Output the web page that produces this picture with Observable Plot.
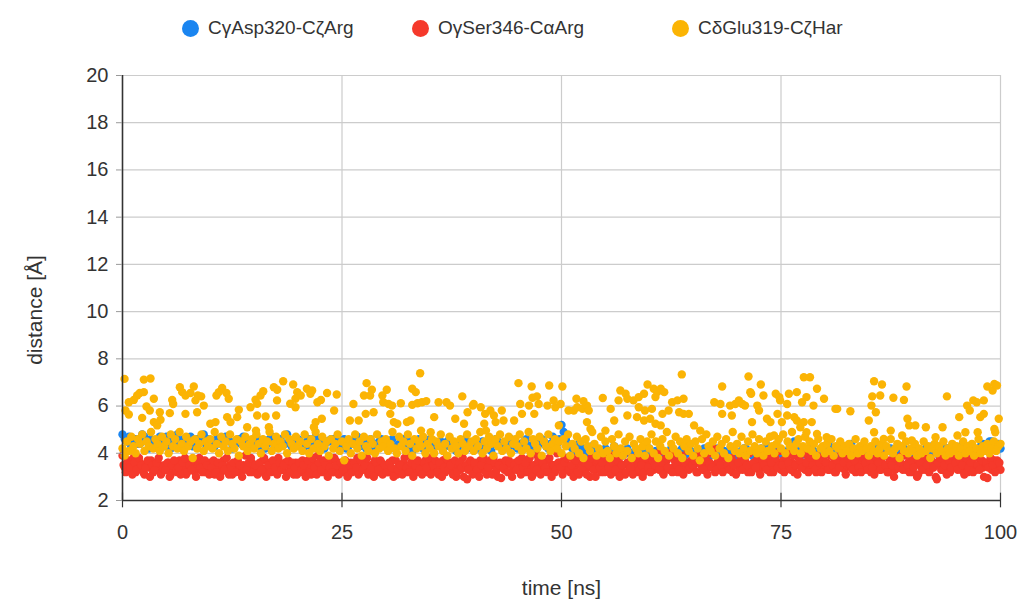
<!DOCTYPE html>
<html><head><meta charset="utf-8">
<script src="https://cdn.jsdelivr.net/npm/d3@7"></script>
<script src="https://cdn.jsdelivr.net/npm/@observablehq/plot@0.6"></script>
<style>
body{margin:0;background:#fff;font-family:"Liberation Sans",Arial,sans-serif;}
#wrap{width:1030px;height:599px;position:relative;overflow:hidden;background:#fff}
#legend{height:56px;position:relative}
.item{position:absolute;top:0;height:56px;display:flex;align-items:center;font-size:19px;color:#333;white-space:nowrap}
.dot{width:17px;height:17px;border-radius:50%;margin-right:9px}
</style></head><body><div id="wrap"><div id="legend"></div><div id="chart"></div></div>
<script>
const seriesNames = ["CγAsp320-CζArg", "OγSer346-CαArg", "CδGlu319-CζHar"];
const seriesColors = ["#1a85f0", "#f5392b", "#fbb404"];
const xTicks = [0, 25, 50, 75, 100];
const yTicks = [2, 4, 6, 8, 10, 12, 14, 16, 18, 20];
const xLabel = "time [ns]";
const yLabel = "distance [Å]";

// sampling interval of the trajectory (ns)
const blueStep = 0.25;
const redStep = 0.25;
const redOffsetB = 0.125;
const orangeStep = 0.25;

// CγAsp320-CζArg, one value per 0.25 ns
const blueValues = [
4.8,4.6,4.5,4.7,4.3,4.5,4.6,4.4,4.4,4.8,4.7,4.5,4.2,4.6,4.5,4.4,4.4,4.7,4.6,4.3,
4.7,4.5,4.2,4.6,4.4,4.8,4.5,4.3,4.6,4.5,4.4,4.7,4.3,4.5,4.6,4.4,4.5,4.8,4.4,4.6,
4.5,4.3,4.3,4.6,4.6,4.4,4.4,4.7,4.7,4.5,4.2,4.4,4.5,4.6,4.4,4.7,4.6,4.5,4.3,4.4,
4.5,4.7,4.3,4.5,4.5,4.2,4.4,4.6,4.7,4.4,4.3,4.5,4.6,4.4,4.4,4.8,4.5,4.3,4.3,4.6,
4.6,4.5,4.4,4.3,4.5,4.6,4.3,4.4,4.7,4.5,4.4,4.3,4.2,4.5,4.5,4.6,4.6,4.4,4.3,4.5,
4.4,4.6,4.2,4.3,4.5,4.4,4.6,4.7,4.3,4.5,4.4,4.2,4.5,4.6,4.1,4.4,4.4,4.5,4.6,4.3,
4.3,4.4,4.5,4.6,4.2,4.3,4.4,4.5,4.6,4.4,4.3,4.5,4.1,4.4,4.5,4.6,4.4,4.2,4.2,4.5,
4.6,4.3,4.3,4.4,4.4,4.5,4.2,4.3,4.5,4.6,4.3,4.4,4.1,4.3,4.4,4.5,4.6,4.2,4.3,4.4,
4.4,4.5,4.2,4.3,4.5,4.4,4.3,4.2,4.1,4.4,4.6,4.5,4.4,4.3,4.2,4.4,4.3,4.6,4.5,4.3,
4.2,4.4,4.4,4.5,4.6,4.3,4.3,4.1,4.1,4.4,4.4,4.6,4.5,4.3,4.2,4.4,4.7,4.5,4.4,4.6,
5.2,4.9,4.6,4.4,4.3,4.2,4.1,4.3,4.4,4.2,4.2,4.0,4.0,4.2,4.3,4.1,4.1,4.0,3.9,4.1,
4.2,4.1,4.0,3.9,4.3,4.2,4.1,4.0,3.9,4.1,4.2,4.0,4.0,3.9,3.8,4.1,4.1,4.0,4.0,4.2,
4.2,4.0,3.9,4.1,4.1,4.0,4.0,3.9,3.8,4.0,4.2,4.1,4.0,3.9,4.1,4.2,3.9,4.0,4.3,4.1,
4.0,3.9,3.8,4.0,4.1,4.2,4.2,4.0,3.9,4.1,4.0,4.2,3.9,4.0,4.1,3.9,4.0,4.2,4.1,4.0,
3.9,4.0,4.1,4.2,4.2,4.1,4.0,3.9,3.8,4.0,4.1,4.2,4.0,4.1,4.3,4.0,3.9,4.1,4.1,4.0,
4.0,3.9,3.8,4.1,4.2,4.0,4.5,4.2,4.0,3.9,4.1,4.0,3.9,4.2,4.2,4.1,4.0,3.9,3.9,4.1,
4.1,4.0,4.3,4.2,4.0,4.1,4.2,4.0,3.9,4.0,4.1,4.2,4.4,4.1,4.0,3.9,4.2,4.0,3.9,4.1,
4.1,4.2,4.0,3.9,4.3,4.1,3.9,4.0,4.1,4.2,4.2,4.0,3.9,3.8,4.1,4.0,4.2,4.1,4.0,3.9,
4.0,4.2,4.1,4.0,3.9,4.1,4.2,4.0,4.0,4.3,4.3,4.1,3.9,4.0,4.1,4.2,4.2,4.0,4.0,4.1,
4.1,4.2,4.3,4.0,3.9,4.1,4.2,4.3,4.0,4.1,4.1,4.3,4.4,4.2,4.2,4.5,4.5,4.3,4.3,4.4,
4.2];

// OγSer346-CαArg, one value per 0.25 ns (frames on the quarter-ns)
const redValues = [
3.9,3.4,3.6,3.3,3.5,3.8,3.2,3.4,3.6,3.3,3.1,3.5,3.4,3.7,3.2,3.3,3.6,3.4,3.2,3.5,
3.3,3.6,3.1,3.4,3.5,3.2,3.7,3.3,3.4,3.1,3.6,3.3,3.5,3.2,3.4,3.8,3.3,3.5,3.2,3.4,
3.6,3.3,3.1,3.5,3.4,3.2,3.7,3.4,3.3,3.5,3.1,3.4,3.6,3.3,3.2,3.5,3.9,3.4,3.2,3.6,
3.3,3.5,3.2,3.4,3.7,3.1,3.4,3.6,3.3,3.5,3.2,3.8,3.4,3.3,3.6,3.2,3.5,3.4,3.1,3.6,
3.4,3.2,3.7,3.3,3.5,3.4,3.1,3.6,3.3,3.9,3.4,3.2,3.5,3.3,3.6,3.4,3.2,3.7,3.3,3.5,
3.2,3.5,3.4,3.1,3.6,3.3,3.5,3.8,3.2,3.4,3.6,3.3,3.1,3.5,3.4,3.7,3.2,3.4,3.6,3.3,
3.5,3.2,3.4,3.7,3.3,3.1,3.5,3.4,3.6,3.2,3.9,3.4,3.3,3.5,3.2,3.6,3.4,3.3,3.7,3.2,
3.4,3.6,3.3,3.5,3.1,3.4,3.7,3.2,3.5,3.3,3.6,3.4,3.0,3.5,3.3,3.8,3.4,2.9,3.6,3.3,
3.5,3.2,3.4,3.7,3.3,3.6,3.1,3.4,3.5,3.8,3.2,3.0,3.6,3.4,3.3,3.5,3.7,3.2,3.4,3.6,
3.3,3.5,3.8,3.2,3.4,3.6,3.3,3.1,3.5,3.9,3.4,3.2,3.6,3.3,3.7,3.4,3.5,3.2,4.0,3.6,
3.4,3.7,3.3,3.5,3.2,3.8,3.4,3.6,3.1,3.5,3.3,3.7,3.4,3.0,3.6,3.3,3.5,3.8,3.2,3.4,
3.6,3.3,3.5,3.9,3.2,3.4,3.7,3.3,3.5,3.1,3.6,3.4,3.8,3.3,3.5,3.2,3.7,3.0,3.4,3.6,
3.5,3.8,3.3,3.6,3.4,4.1,3.2,3.5,3.7,3.3,3.9,3.4,3.6,3.2,3.5,3.8,3.4,3.6,3.3,3.7,
3.4,3.6,3.2,3.9,3.5,3.3,3.7,3.4,4.0,3.5,3.2,3.6,3.4,3.8,3.3,3.5,3.7,3.4,3.2,3.6,
3.5,3.3,3.8,3.4,3.6,3.2,3.5,4.1,3.4,3.7,3.3,3.5,3.9,3.4,3.6,3.2,3.5,3.8,3.4,3.6,
3.3,3.7,3.5,4.0,3.4,3.6,3.2,3.5,3.8,3.4,3.6,3.3,3.9,3.5,3.4,3.7,3.2,3.6,3.5,3.8,
3.4,3.6,3.3,3.5,3.8,3.2,3.6,3.4,3.7,3.3,3.5,3.9,3.4,3.6,3.2,3.5,3.7,3.4,3.3,3.6,
3.5,3.2,3.7,3.4,3.6,3.3,3.8,3.5,3.4,3.2,3.6,3.5,3.3,3.7,3.4,3.9,3.5,3.3,3.6,3.4,
3.2,3.5,3.0,3.6,3.4,3.7,3.3,3.5,3.8,3.4,3.6,2.9,3.5,3.3,3.7,3.4,3.6,3.2,3.5,3.8,
3.4,3.6,3.3,3.7,3.5,3.2,3.6,3.4,3.8,3.3,3.5,3.7,3.4,3.6,2.95,3.5,3.3,3.7,3.4,3.5,
3.3];

// OγSer346-CαArg, intermediate frames (0.125 ns + one value per 0.25 ns)
const redValuesB = [
3.5,3.2,3.7,3.4,3.1,3.6,3.3,3.8,3.5,3.2,3.4,3.7,3.0,3.5,3.3,3.6,3.8,3.1,3.4,3.3,
3.6,3.0,3.5,3.7,3.3,3.4,3.1,3.6,3.8,3.2,3.5,3.3,3.7,3.0,3.6,3.4,3.2,3.7,3.5,3.1,
3.4,3.7,3.2,3.6,3.0,3.5,3.3,3.8,3.1,3.4,3.6,3.2,3.7,3.5,3.0,3.4,3.3,3.6,3.8,3.2,
3.5,3.1,3.6,3.3,3.8,3.0,3.5,3.2,3.7,3.4,3.1,3.6,3.3,3.5,3.0,3.7,3.2,3.6,3.4,3.1,
3.6,3.3,3.5,3.0,3.7,3.2,3.8,3.4,3.1,3.6,3.3,3.7,3.5,3.0,3.4,3.2,3.8,3.5,3.1,3.6,
3.3,3.7,3.0,3.5,3.2,3.6,3.4,3.1,3.7,3.3,3.5,3.8,3.2,3.4,3.0,3.6,3.3,3.7,3.1,3.5,
3.2,3.6,3.4,3.0,3.7,3.3,3.5,3.1,3.8,3.4,3.2,3.6,3.0,3.5,3.7,3.3,3.1,3.6,3.4,3.8,
3.1,3.5,3.7,3.2,3.6,3.0,3.4,3.8,3.3,3.5,3.1,3.7,3.2,3.6,3.4,3.0,3.5,3.3,3.7,3.1,
3.6,3.3,3.0,3.5,3.8,3.2,3.4,3.7,3.1,3.6,3.3,3.5,2.95,3.4,3.7,3.2,3.6,3.0,3.5,3.3,
3.7,3.1,3.4,3.6,3.2,3.8,3.0,3.5,3.3,3.7,3.1,3.6,3.4,3.2,3.8,3.0,3.5,3.3,3.6,3.4,
3.1,3.6,3.8,3.3,3.5,3.0,3.7,3.2,3.9,3.4,3.6,3.1,3.5,3.8,3.3,3.0,3.7,3.4,3.6,3.2,
3.8,3.4,3.1,3.6,3.3,3.7,3.0,3.5,4.0,3.2,3.6,3.4,3.1,3.7,3.9,3.3,3.5,3.2,3.8,3.4,
3.2,3.7,3.5,3.9,3.3,3.6,3.1,3.8,3.4,4.0,3.2,3.7,3.5,3.3,3.9,3.1,3.6,4.1,3.4,3.5,
3.7,3.2,3.9,3.5,3.3,3.8,3.1,3.6,3.4,4.2,3.3,3.7,3.5,3.2,3.9,3.6,3.3,3.8,3.5,3.1,
3.6,3.9,3.3,3.7,3.5,4.0,3.2,3.6,3.4,3.8,3.1,3.7,3.5,3.3,3.9,3.6,3.2,3.8,3.4,4.1,
3.5,3.2,3.8,3.6,3.3,3.9,3.5,3.1,3.7,3.4,4.0,3.6,3.2,3.8,3.5,3.3,3.9,3.6,3.2,3.7,
3.6,3.3,3.9,3.5,3.2,3.7,3.4,4.0,3.6,3.1,3.8,3.5,3.3,3.7,3.9,3.4,3.2,3.8,3.6,3.3,
3.7,3.4,3.1,3.8,3.6,3.3,3.9,3.5,3.2,3.7,3.5,3.0,3.8,3.4,3.6,3.3,3.9,3.5,3.2,3.7,
3.4,3.8,3.1,3.6,3.3,3.9,3.5,3.2,3.7,3.4,3.0,3.6,3.8,3.3,3.5,3.1,3.7,3.4,3.9,3.6,
3.3,3.7,3.5,3.1,3.8,3.4,3.6,3.2,3.9,3.5,3.3,3.7,3.0,3.6,3.4,3.8,3.5,3.2,3.7,3.6];

// CδGlu319-CζHar, dense band, one value per 0.25 ns
const orangeValues = [
4.2,3.9,4.5,4.1,4.7,4.3,4.0,4.6,4.4,4.8,4.1,4.5,4.3,4.9,4.2,4.6,4.4,4.1,4.7,4.3,
4.5,4.0,4.8,4.3,4.6,4.2,4.9,4.4,4.1,4.7,4.3,4.5,3.8,4.6,4.2,4.4,4.8,4.1,4.5,4.3,
4.6,4.2,4.9,4.4,4.0,4.7,4.3,4.5,4.1,4.8,4.4,4.2,4.6,3.9,4.5,4.3,4.7,4.1,4.4,4.6,
4.2,4.8,4.4,4.0,4.6,4.3,4.5,4.9,4.1,4.4,4.7,4.2,4.5,4.3,4.8,4.0,4.6,4.4,4.2,4.7,
4.3,4.5,4.1,4.8,4.4,4.0,4.6,4.2,4.9,4.4,4.1,4.7,4.3,4.5,3.9,4.6,4.2,4.4,4.8,4.1,
4.5,3.7,4.3,4.6,4.0,4.4,4.8,4.2,4.5,3.9,4.7,4.3,4.1,4.6,4.4,4.0,4.8,4.2,4.5,4.3,
4.6,4.1,4.4,4.9,4.2,4.0,4.7,4.3,4.5,4.1,4.8,4.4,3.9,4.6,4.2,4.5,4.3,4.7,4.0,4.4,
4.2,4.6,4.0,4.5,4.3,4.8,4.1,4.4,3.9,4.7,4.2,4.5,4.3,4.0,4.6,4.4,4.1,4.8,4.3,4.5,
4.1,4.6,4.3,4.9,4.0,4.5,4.2,4.7,4.4,3.9,4.6,4.3,4.8,4.1,4.5,4.2,4.7,4.0,4.4,4.6,
4.3,4.8,4.1,4.5,4.2,4.9,4.0,4.6,4.4,4.2,4.7,3.9,4.5,4.3,4.8,4.1,4.4,4.6,4.2,4.5,
4.0,4.6,4.3,4.8,3.9,4.4,4.2,4.7,4.0,4.5,3.8,4.6,4.3,4.1,4.9,4.4,3.9,4.2,4.7,4.0,
4.5,4.1,3.8,4.6,4.3,4.0,4.8,4.2,3.9,4.5,4.1,4.7,3.8,4.4,4.2,4.0,4.6,4.3,3.9,4.5,
4.2,4.8,4.0,4.5,3.8,4.3,4.6,4.1,4.9,3.9,4.4,4.2,4.7,4.0,4.5,3.8,4.3,4.6,4.1,4.4,
3.9,4.5,4.2,3.7,4.6,4.0,4.8,4.3,4.1,4.5,3.9,4.7,4.2,4.4,4.0,4.6,3.8,4.3,4.9,4.1,
4.4,4.0,4.7,4.2,3.9,4.5,4.1,4.8,4.3,4.0,4.6,4.2,3.9,4.5,4.1,4.7,4.3,4.0,4.4,4.6,
4.2,4.8,4.0,4.5,4.3,4.9,4.1,4.4,4.6,4.0,4.3,4.7,4.2,4.5,4.1,4.4,3.9,4.6,4.2,4.3,
4.0,4.4,4.1,4.6,3.9,4.3,4.2,4.5,4.0,4.3,4.1,4.4,3.9,4.2,4.6,4.0,4.3,4.1,4.5,4.2,
3.9,4.3,4.1,4.5,4.0,4.2,4.4,3.9,4.3,4.1,4.6,4.0,4.2,4.4,3.8,4.3,4.1,4.5,4.0,4.2,
4.1,4.4,3.9,4.2,4.0,4.5,4.1,4.3,3.8,4.2,4.4,4.0,4.3,4.1,4.5,3.9,4.2,4.0,4.4,4.1,
4.3,3.9,4.2,4.5,4.0,4.3,4.1,4.4,3.9,4.2,4.6,4.0,4.3,4.1,4.4,4.0,4.2,4.5,4.1,4.3,
4.4];

// CδGlu319-CζHar, excursions above the band: [time ns, distance Å]
const orangeHigh = [
[0.23,7.15],[2.43,7.12],[3.19,7.17],[1.67,6.45],[1.97,6.55],[2.43,6.59],[0.72,6.16],[1.29,6.26],[0.34,5.81],[0.72,5.64],
[2.73,5.98],[3.11,5.81],[2.24,5.5],[3.57,6.31],[4.25,5.74],[3.57,5.32],[3.95,5.18],[4.33,5.42],[5.66,6.26],[5.77,6.09],
[5.39,5.7],[6.53,6.8],[6.8,6.59],[7.17,6.45],[7.74,6.55],[8.12,6.83],[8.58,6.45],[8.96,6.41],[7.17,5.67],[8.31,6.24],
[8.5,5.74],[9.26,6.02],[10.0,5.25],[10.59,5.32],[10.7,6.45],[10.97,6.59],[11.35,6.77],[11.84,6.55],[12.1,6.31],[11.92,5.53],
[12.3,5.32],[13.06,5.53],[13.25,5.84],[14.2,5.1],[15.2,4.96],[14.58,5.95],[15.15,6.27],[15.34,6.1],[15.34,5.6],[15.72,6.45],
[16.03,6.63],[16.3,5.56],[16.67,5.1],[17.24,6.8],[17.62,6.69],[18.3,7.05],[19.44,6.91],[17.5,5.6],[17.6,6.24],[19.1,6.1],
[19.7,5.95],[19.9,6.59],[20.3,6.45],[19.7,6.31],[21.0,6.73],[21.6,6.66],[21.4,6.52],[22.2,6.16],[22.6,6.26],[23.3,6.55],
[24.4,6.49],[24.1,5.81],[22.0,5.32],[22.7,5.46],[21.8,5.1],[26.3,6.09],[25.9,5.39],[26.9,5.39],[27.8,6.97],[28.4,6.69],
[27.5,6.45],[28.2,6.45],[27.7,5.67],[28.6,5.74],[29.6,6.45],[30.1,6.69],[29.7,6.16],[30.3,6.09],[30.7,6.02],[30.5,5.67],
[30.9,5.32],[31.3,5.25],[31.7,6.12],[33.0,6.73],[33.4,6.59],[33.9,7.39],[32.8,5.39],[32.4,5.32],[33.0,6.05],[33.6,6.12],
[34.1,6.16],[34.6,6.21],[34.0,4.96],[35.1,4.89],[35.5,5.53],[36.0,6.16],[36.9,6.16],[37.3,6.02],[38.7,6.41],[39.3,5.74],
[39.9,6.02],[37.9,5.46],[38.9,5.25],[45.1,6.97],[46.6,6.83],[48.6,6.87],[50.1,6.83],[46.7,6.35],[47.2,6.41],[45.3,6.09],
[46.3,6.02],[47.4,6.09],[48.4,6.02],[49.1,6.24],[49.3,5.95],[49.9,6.09],[45.5,5.67],[46.9,5.67],[40.0,6.09],[40.8,5.95],
[41.9,5.81],[42.3,5.6],[43.2,5.81],[41.3,5.67],[42.5,5.32],[43.4,5.39],[44.6,5.39],[41.2,5.25],[41.4,4.96],[49.7,5.18],
[50.8,5.81],[51.4,5.81],[51.8,5.95],[52.4,5.88],[52.9,6.02],[51.7,6.31],[52.5,6.21],[53.1,5.81],[52.9,5.32],[53.3,5.03],
[54.7,6.34],[55.6,5.88],[56.0,5.39],[55.0,4.96],[56.7,6.66],[57.3,6.52],[56.5,6.24],[57.5,6.31],[58.2,6.24],[58.8,6.38],
[59.4,6.52],[59.8,6.91],[60.5,6.73],[60.9,6.59],[58.8,5.95],[59.5,5.81],[60.3,5.88],[57.5,5.6],[58.6,5.53],[59.4,5.39],
[60.1,5.46],[60.7,5.25],[63.7,7.34],[61.3,6.73],[61.7,6.59],[60.7,6.38],[62.6,6.16],[63.2,6.24],[63.9,6.31],[61.5,5.67],
[62.2,5.81],[63.4,5.74],[63.9,5.67],[64.5,5.67],[61.3,5.18],[65.1,5.18],[65.8,4.96],[67.4,6.16],[68.1,6.09],[68.3,6.83],
[68.3,5.67],[69.2,6.02],[69.4,5.6],[69.8,6.09],[70.2,6.24],[70.6,6.09],[70.9,6.02],[71.3,7.25],[71.5,6.59],[71.6,6.52],
[72.7,6.91],[73.0,6.45],[72.3,6.02],[72.5,5.81],[71.7,5.32],[73.4,5.46],[73.8,5.32],[74.4,6.52],[74.8,6.38],[74.9,6.24],
[74.6,5.67],[75.1,5.32],[74.2,4.75],[75.9,6.52],[76.8,6.59],[77.6,7.22],[78.3,7.22],[77.9,6.38],[79.1,6.73],[79.9,6.31],
[75.7,6.09],[77.4,6.16],[78.7,6.02],[75.7,5.6],[76.5,5.53],[76.8,5.39],[77.6,5.32],[78.5,5.32],[81.2,5.88],[77.2,5.1],
[77.9,4.89],[79.1,4.82],[80.2,4.68],[81.4,5.88],[82.9,5.78],[85.6,7.05],[86.5,6.91],[85.4,6.41],[86.3,6.45],[85.3,6.02],
[85.8,5.74],[85.0,5.39],[87.8,6.35],[89.0,6.26],[89.3,6.83],[89.4,5.46],[89.6,5.18],[90.3,5.18],[85.6,4.89],[86.7,4.61],
[87.5,4.96],[88.8,4.75],[89.9,4.54],[91.5,5.1],[92.6,4.68],[93.4,5.1],[93.9,6.41],[95.3,5.53],[95.1,4.75],[96.0,4.89],
[97.4,4.89],[96.2,6.02],[96.9,6.24],[97.3,6.16],[98.1,6.24],[96.5,5.81],[98.1,5.67],[97.7,5.53],[98.5,6.83],[99.1,6.66],
[99.3,6.94],[99.6,6.87],[99.8,5.46],[99.3,5.03],[99.4,4.89]];

// ---- assemble table (drawing order: blue, red, orange) ----
const rows = [];
blueValues.forEach((v, i) => rows.push({t: i * blueStep, v, s: seriesNames[0]}));
redValues.forEach((v, i) => rows.push({t: i * redStep, v, s: seriesNames[1]}));
redValuesB.forEach((v, i) => rows.push({t: redOffsetB + i * redStep, v, s: seriesNames[1]}));
orangeValues.forEach((v, i) => rows.push({t: i * orangeStep, v, s: seriesNames[2]}));
orangeHigh.forEach(([t, v]) => rows.push({t, v, s: seriesNames[2]}));

// ---- legend ----
const legendLeft = [182, 412, 672];
const legend = document.getElementById("legend");
seriesNames.forEach((name, i) => {
  const it = document.createElement("div");
  it.className = "item";
  it.style.left = legendLeft[i] + "px";
  it.innerHTML = `<span class="dot" style="background:${seriesColors[i]}"></span><span>${name}</span>`;
  legend.appendChild(it);
});

const axisColor = "#333";
const chart = Plot.plot({
  width: 1030,
  height: 543,
  marginLeft: 122,
  marginRight: 30,
  marginTop: 19,
  marginBottom: 99,
  style: {fontFamily: "'Liberation Sans', Arial, sans-serif", fontSize: "20px", background: "#fff", color: "#333"},
  x: {domain: [0, 100], ticks: xTicks},
  y: {domain: [2, 20], ticks: yTicks},
  color: {domain: seriesNames, range: seriesColors},
  marks: [
    Plot.gridY(yTicks.slice(1), {stroke: "#cccccc", strokeOpacity: 1, strokeWidth: 1.2}),
    Plot.gridX(xTicks.slice(1), {stroke: "#cccccc", strokeOpacity: 1, strokeWidth: 1.2}),
    Plot.dot(rows, {x: "t", y: "v", fill: "s", r: 4.2, stroke: null}),
    Plot.ruleY([2], {stroke: axisColor, strokeWidth: 1.6}),
    Plot.ruleX([0], {stroke: axisColor, strokeWidth: 1.6}),
    Plot.ruleX(xTicks, {y1: 1.69, y2: 2.31, stroke: axisColor, strokeWidth: 1.2}),
    Plot.axisY(yTicks, {tickSize: 6, tickPadding: 8, stroke: "#999", fill: "#333", fontSize: 20, label: null}),
    Plot.axisX(xTicks, {tickSize: 0, tickPadding: 24, fill: "#333", fontSize: 20, label: null}),
    Plot.text([yLabel], {frameAnchor: "left", textAnchor: "middle", dx: -87, dy: 22, rotate: -90, fontSize: 21, fill: "#333"}),
    Plot.text([xLabel], {frameAnchor: "bottom", dy: 94, fontSize: 21, fill: "#333"})
  ]
});
document.getElementById("chart").appendChild(chart);
</script>
</body></html>
